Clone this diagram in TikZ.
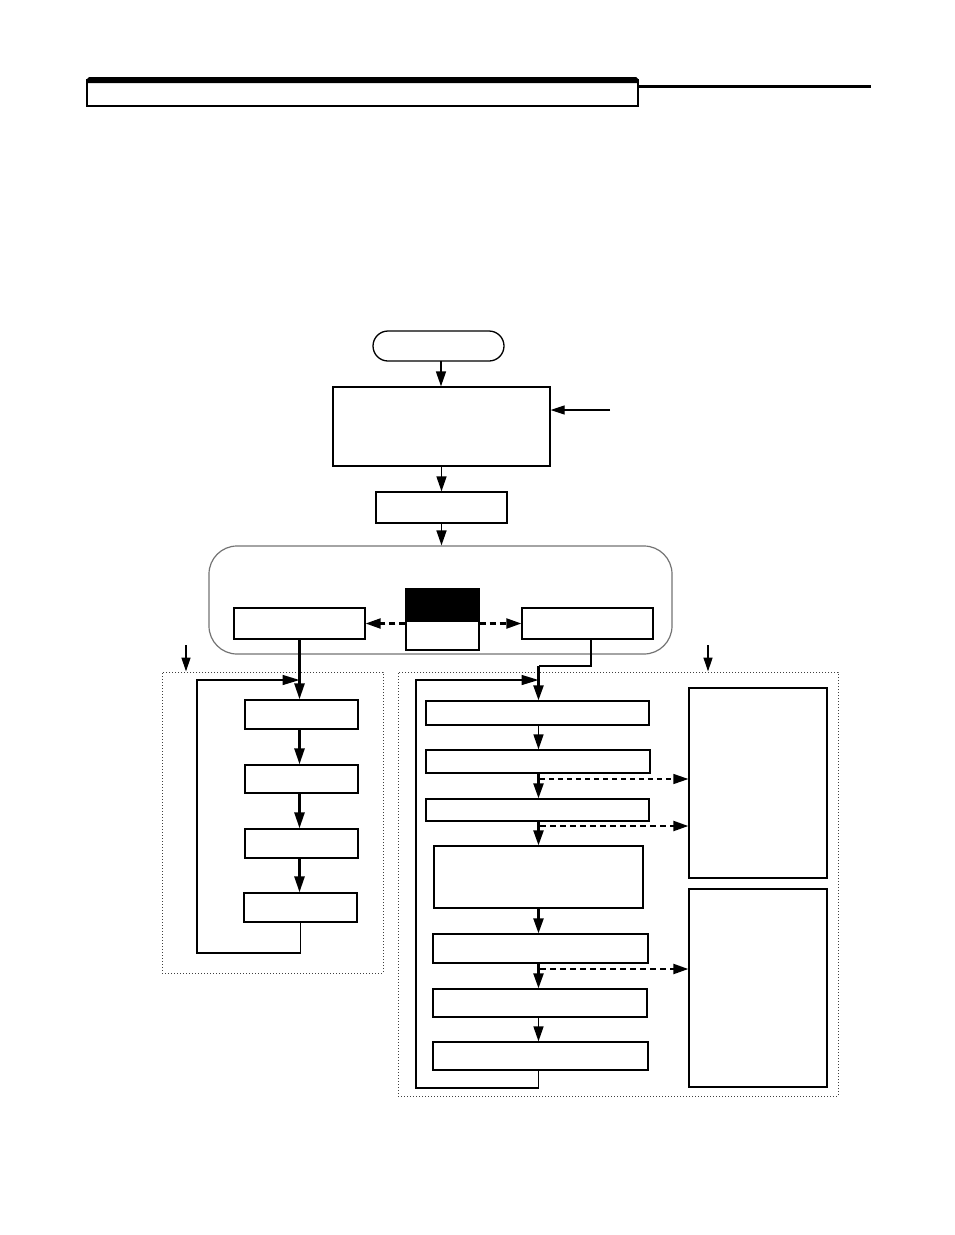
\documentclass[tikz,border=0pt]{standalone}
\usetikzlibrary{arrows.meta,calc}
\begin{document}
\begin{tikzpicture}[x=1pt,y=-1pt,
  tip/.tip={Triangle[length=15pt,width=10pt]},
  box/.style={draw,line width=1.3pt,inner sep=0pt,rectangle},
  arr/.style={-tip,line width=1.6pt},
  tarr/.style={-{Triangle[length=16pt,width=10pt]},line width=2.6pt},
  thin arr/.style={-{Triangle[length=14pt,width=9pt]},line width=1.3pt},
  darr/.style={-tip,line width=2.2pt,dash pattern=on 6pt off 4pt},
  tdarr/.style={-tip,line width=1.3pt,dash pattern=on 5pt off 4pt},
  dotbox/.style={draw=black!75,line width=1pt,dotted,inner sep=0pt,rectangle},
  loopline/.style={line width=2.8pt}
]
\useasboundingbox (0,0) rectangle (954,1235);
% header
\fill (87,83) -- (87,79) -- (89,77) -- (636,77) -- (638,79) -- (638,83) -- cycle;
\draw[line width=1.8pt] (87,80) rectangle (638,106);
\draw[line width=3pt] (638,86) -- (871,86);

% top flow
\node[box,rounded corners=15pt,minimum width=131pt,minimum height=30pt] (term) at (438.5,346) {};
\node[box,minimum width=217pt,minimum height=79pt] (box1) at (441.5,426.5) {};
\node[box,minimum width=131pt,minimum height=31pt] (box2) at (441.5,507.5) {};
\node[draw=black!55,line width=1.2pt,rounded corners=28pt,minimum width=463pt,minimum height=108pt,inner sep=0pt] (big) at (440.5,600) {};
\node[box,minimum width=131pt,minimum height=31pt] (lbox) at (299.5,623.5) {};
\node[box,minimum width=131pt,minimum height=31pt] (rbox) at (587.5,623.5) {};
\node[box,fill=black,minimum width=73pt,minimum height=32pt] (blk) at (442.5,605) {};
\node[box,minimum width=73pt,minimum height=29pt] (wht) at (442.5,635.5) {};

\coordinate (tin) at (441,361);
\draw[arr] (tin) -- (box1.north -| tin);
\draw[arr] (box1.south) -- (box2.north);
\draw[arr] (box2.south) -- (big.north -| box2.south);
\coordinate (side) at (610,410);
\draw[thin arr] (side) -- (box1.east |- side);
\draw[darr] (wht.west |- lbox.east) -- (lbox.east);
\draw[darr] (wht.east |- rbox.west) -- (rbox.west);

% left dotted group
\node[dotbox,minimum width=221pt,minimum height=301pt] (ldot) at (272.5,822.5) {};
\coordinate (larrtop) at (186,645);
\draw[thin arr] (larrtop) -- (ldot.north -| larrtop);
\node[box,minimum width=113pt,minimum height=29pt] (b1) at (301.5,714.5) {};
\node[box,minimum width=113pt,minimum height=28pt] (b2) at (301.5,779) {};
\node[box,minimum width=113pt,minimum height=29pt] (b3) at (301.5,843.5) {};
\node[box,minimum width=113pt,minimum height=29pt] (b4) at (300.5,907.5) {};
\draw[tarr] (lbox.south) -- (b1.north -| lbox.south);
\draw[tarr] (b1.south -| lbox.south) -- (b2.north -| lbox.south);
\draw[tarr] (b2.south -| lbox.south) -- (b3.north -| lbox.south);
\draw[tarr] (b3.south -| lbox.south) -- (b4.north -| lbox.south);
\coordinate (lbl) at (197,953);
\coordinate (ltl) at (197,680);
\draw[line width=1.5pt] (b4.south) -- (b4.south |- lbl) -- (lbl);
\draw[loopline] (b4.south |- lbl) -- (lbl) -- (ltl) -- ($(ltl -| lbox.south)+(-14,0)$);
\draw[-{Triangle[length=17pt,width=10pt]},line width=1.5pt] ($(ltl -| lbox.south)+(-17,0)$) -- (ltl -| lbox.south);

% right dotted group
\node[dotbox,minimum width=440pt,minimum height=424pt] (rdot) at (618,884) {};
\coordinate (rarrtop) at (708,645);
\draw[thin arr] (rarrtop) -- (rdot.north -| rarrtop);
\node[box,minimum width=223pt,minimum height=24pt] (r1) at (537.5,713) {};
\node[box,minimum width=224pt,minimum height=23pt] (r2) at (538,761.5) {};
\node[box,minimum width=223pt,minimum height=22pt] (r3) at (537.5,810) {};
\node[box,minimum width=209pt,minimum height=62pt] (r4) at (538.5,877) {};
\node[box,minimum width=215pt,minimum height=29pt] (r5) at (540.5,948.5) {};
\node[box,minimum width=214pt,minimum height=28pt] (r6) at (540,1003) {};
\node[box,minimum width=215pt,minimum height=28pt] (r7) at (540.5,1056) {};
\node[box,minimum width=138pt,minimum height=190pt] (s1) at (758,783) {};
\node[box,minimum width=138pt,minimum height=198pt] (s2) at (758,988) {};

\coordinate (rsp) at (538.5,666);
\coordinate (rdrop) at ($(rbox.south)+(3.5,0)$);
\draw[line width=1.3pt] (rdrop) -- (rdrop |- rsp) -- (rsp);
\draw[arr,line width=2.3pt] (rsp) -- (r1.north -| rsp);
\draw[arr] (r1.south -| rsp) -- (r2.north -| rsp);
\draw[arr,line width=2.3pt] (r2.south -| rsp) -- (r3.north -| rsp);
\draw[arr,line width=2.3pt] (r3.south -| rsp) -- (r4.north -| rsp);
\draw[arr,line width=2.3pt] (r4.south -| rsp) -- (r5.north -| rsp);
\draw[arr,line width=2.3pt] (r5.south -| rsp) -- (r6.north -| rsp);
\draw[arr] (r6.south -| rsp) -- (r7.north -| rsp);

\coordinate (d1) at (540,779);
\coordinate (d2) at (540,826);
\coordinate (d3) at (540,969);
\draw[tdarr] (d1) -- (s1.west |- d1);
\draw[darr] (d2) -- (s1.west |- d2);
\draw[darr] (d3) -- (s2.west |- d3);

\coordinate (rbl) at (416,1088);
\coordinate (rtl) at (416,680);
\draw[line width=1.5pt] (r7.south -| rsp) -- (rsp |- rbl);
\draw[loopline] (rsp |- rbl) -- (rbl) -- (rtl) -- ($(rtl -| rsp)+(-14,0)$);
\draw[-{Triangle[length=17pt,width=10pt]},line width=1.5pt] ($(rtl -| rsp)+(-17,0)$) -- (rtl -| rsp);
\end{tikzpicture}
\end{document}
